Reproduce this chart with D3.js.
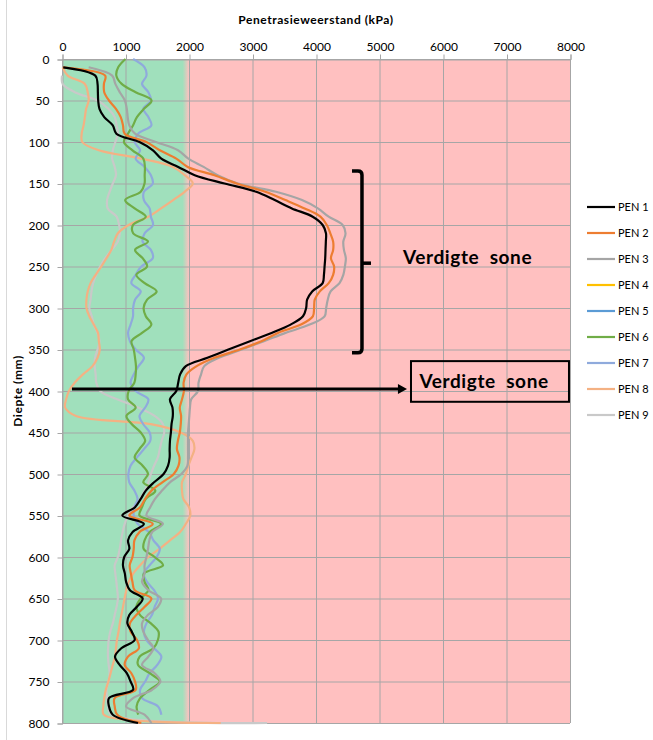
<!DOCTYPE html>
<html>
<head>
<meta charset="utf-8">
<script src="https://cdn.jsdelivr.net/npm/d3@7"></script>
<style>
  body { margin: 0; background: #fff; }
  text { font-family: Lato, "Open Sans", sans-serif; fill: #000; }
</style>
</head>
<body>
<svg id="chart" width="653" height="740"></svg>
<script>
// depth (mm) of every reading, 10 mm steps
const depths = [0, 10, 20, 30, 40, 50, 60, 70, 80, 90,
  100, 110, 120, 130, 140, 150, 160, 170, 180, 190,
  200, 210, 220, 230, 240, 250, 260, 270, 280, 290,
  300, 310, 320, 330, 340, 350, 360, 370, 380, 390,
  400, 410, 420, 430, 440, 450, 460, 470, 480, 490,
  500, 510, 520, 530, 540, 550, 560, 570, 580, 590,
  600, 610, 620, 630, 640, 650, 660, 670, 680, 690,
  700, 710, 720, 730, 740, 750, 760, 770, 780, 790,
  800];

// penetration resistance (kPa) per probe
const pen1 = [null, 20, 525, 560, 565, 570, 590, 665, 800, 856,
  1220, 1433, 1564, 1830, 2090, 2560, 3058, 3350, 3620, 3948,
  4105, 4157, 4155, 4150, 4145, 4135, 4125, 4105, 3940, 3860,
  3845, 3795, 3600, 3300, 2960, 2620, 2290, 1950, 1860, 1830,
  1800, 1700, 1740, 1745, 1725, 1715, 1700, 1695, 1695, 1670,
  1600, 1450, 1320, 1240, 1150, 950, 1290, 1110, 1040, 1060,
  980, 960, 990, 1010, 1070, 1270, 1180, 1060, 1030, 1100,
  1144, 934, 835, 908, 1020, 1080, 1120, 740, 740, 800,
  1197];
const pen2 = [null, 15, 680, 660, 665, 740, 850, 925, 961, 987,
  1328, 1540, 1800, 1980, 2400, 2750, 3200, 3520, 3820, 4070,
  4170, 4225, 4270, 4270, 4235, 4285, 4270, 4200, 4060, 3980,
  3970, 3950, 3760, 3400, 3140, 2800, 2400, 2120, 1960, 1915,
  1920, 1890, 1855, 1875, 1870, 1855, 1825, 1810, 1850, 1835,
  1760, 1580, 1410, 1310, 1230, 1060, 1430, 1220, 1140, 1130,
  1110, 1066, 1085, 1110, 1144, 1407, 1302, 1170, 1070, 1080,
  1180, 1210, 1039, 987, 1092, 1150, 1160, 829, 830, 870,
  1249];
const pen3 = [null, 420, 790, 840, 910, 990, 1020, 1035, 1060, 1150,
  1480, 1827, 1990, 2230, 2450, 2770, 3370, 3780, 4030, 4200,
  4419, 4465, 4430, 4440, 4470, 4455, 4430, 4370, 4230, 4185,
  4160, 4135, 3900, 3520, 3180, 2830, 2470, 2240, 2190, 2150,
  2142, 2035, 2015, 2005, 1995, 1985, 1984, 1984, 1984, 1975,
  1880, 1700, 1575, 1465, 1390, 1330, 1590, 1420, 1375, 1355,
  1330, 1300, 1300, 1260, 1360, 1560, 1510, 1350, 1260, 1280,
  1354, 1440, 1360, 1260, 1459, 1550, 1420, 1120, 1010, 1300,
  1407];
const pen4 = [];
const pen5 = [];
const pen6 = [1000, 885, 856, 940, 1160, 1410, 1290, 1180, 1118, 1039,
  975, 1110, 1280, 1305, 1302, 1300, 1240, 995, 1144, 1320,
  1118, 1120, 1354, 1150, 1270, 1340, 1170, 1302, 1490, 1340,
  1285, 1320, 1407, 1260, 1095, 1130, 1150, 1165, 1160, 1140,
  1050, 1040, 1160, 1015, 1100, 1240, 1310, 1220, 1144, 1270,
  1354, 1280, 1470, 1320, 1260, 1220, 1560, 1380, 1300, 1285,
  1459, 1591, 1290, 1300, 1360, 1240, 1171, 1230, 1400, 1520,
  1510, 1440, 1223, 1197, 1381, 1540, 1380, 1230, 1175, 1200,
  null];
const pen7 = [1120, 1300, 1330, 1260, 1360, 1400, 1280, 1360, 1407, 1200,
  1144, 1230, 1160, 1300, 1400, 1430, 1290, 1290, 1380, 1400,
  1433, 1302, 1270, 1400, 1430, 1249, 1160, 1092, 1240, 1150,
  1120, 1118, 1080, 1040, 1070, 1160, 1290, 1205, 1130, 1080,
  1160, 1360, 1310, 1220, 1280, 1380, 1390, 1290, 1180, 1080,
  1045, 1060, 1140, 1190, 1140, 1130, 1190, 1370, 1440, 1540,
  1490, 1380, 1285, 1340, 1450, 1512, 1459, 1415, 1330, 1290,
  1330, 1450, 1564, 1500, 1380, 1310, 1230, 1260, 1512, 1564,
  null];
const pen8 = [null, 10, 90, 360, 405, 420, 380, 360, 340, 310,
  320, 580, 1250, 1750, 1932, 2060, 1930, 1750, 1560, 1360,
  1050, 880, 820, 777, 700, 619, 530, 450, 405, 385,
  385, 430, 500, 567, 580, 595, 560, 480, 330, 200,
  110, 65, 50, 220, 1400, 1870, 2060, 2085, 2040, 1990,
  1950, 1890, 1890, 1910, 2000, 2020, 1950, 1860, 1700, 1540,
  1360, 1230, 1120, 1050, 1013, 985, 961, 935, 910, 890,
  865, 850, 835, 800, 765, 730, 690, 665, 650, 660,
  2500];
const pen9 = [null, null, 0, 10, 200, 560, 730, 830, 860, 880,
  840, 800, 790, 830, 850, 800, 750, 710, 720, 860,
  900, 910, 880, 780, 680, 600, 540, 490, 465, 450,
  430, 470, 500, 560, 590, 560, 520, 515, 530, 540,
  600, 870, 1200, 1460, 1590, 1610, 1570, 1540, 1510, 1450,
  1400, 1360, 1302, 1230, 1120, 1040, 987, 955, 930, 910,
  880, 830, 840, 856, 870, 880, 860, 830, 800, 760,
  735, 725, 724, 735, 750, 730, 700, 710, 724, 777,
  3230];

const penNames = ["PEN 1", "PEN 2", "PEN 3", "PEN 4", "PEN 5", "PEN 6", "PEN 7", "PEN 8", "PEN 9"];
const penValues = [pen1, pen2, pen3, pen4, pen5, pen6, pen7, pen8, pen9];
const penColors = ["#000000", "#ED7D31", "#A5A5A5", "#FFC000", "#5B9BD5", "#70AD47", "#8FAADC", "#F4B183", "#C9C9C9"];

const xTicks = [0, 1000, 2000, 3000, 4000, 5000, 6000, 7000, 8000];
const yTicks = [0, 50, 100, 150, 200, 250, 300, 350, 400, 450, 500, 550, 600, 650, 700, 750, 800];

const zoneLimit = 2000;   // green / red boundary (kPa)
const noteText = "Verdigte\u00a0 sone";

const svg = d3.select("#chart");

const plotLeft = 62, plotTop = 59, plotRight = 570, plotBottom = 723;

const x = d3.scaleLinear().domain([0, 8000]).range([plotLeft, plotRight]);
const y = d3.scaleLinear().domain([0, 800]).range([plotTop, plotBottom]);

// chart area border
svg.append("rect")
  .attr("x", 6.5).attr("y", -2)
  .attr("width", 700).attr("height", 750)
  .attr("fill", "none")
  .attr("stroke", "#D9D9D9");

// zone backgrounds
const defs = svg.append("defs");
const grad = defs.append("linearGradient")
  .attr("id", "zone")
  .attr("gradientUnits", "userSpaceOnUse")
  .attr("x1", x(0)).attr("x2", x(8000)).attr("y1", 0).attr("y2", 0);
grad.append("stop").attr("offset", (x(1900) - plotLeft) / (plotRight - plotLeft)).attr("stop-color", "#A0E0BC");
grad.append("stop").attr("offset", (x(zoneLimit) - plotLeft) / (plotRight - plotLeft)).attr("stop-color", "#FFC0C0");
grad.append("stop").attr("offset", 1).attr("stop-color", "#FFC0C0");

svg.append("rect")
  .attr("x", x(0)).attr("y", y(0))
  .attr("width", x(8000) - x(0))
  .attr("height", y(800) - y(0))
  .attr("fill", "url(#zone)");

// gridlines
svg.append("g")
  .selectAll("line")
  .data(xTicks)
  .enter()
  .append("line")
  .attr("x1", d => x(d) + 0.5).attr("x2", d => x(d) + 0.5)
  .attr("y1", y(0)).attr("y2", y(800))
  .attr("stroke", "#A6A6A6");

svg.append("g")
  .selectAll("line")
  .data(yTicks)
  .enter()
  .append("line")
  .attr("x1", x(0)).attr("x2", x(8000))
  .attr("y1", d => y(d) + 0.5).attr("y2", d => y(d) + 0.5)
  .attr("stroke", "#A6A6A6");

// axes
const xAxis = svg.append("g")
  .attr("transform", `translate(0.5,${y(0) + 0.5})`)
  .call(d3.axisTop(x).tickValues(xTicks).tickSize(5).tickPadding(4).tickFormat(d3.format("d")));

const yAxis = svg.append("g")
  .attr("transform", `translate(${x(0) + 0.5},0.5)`)
  .call(d3.axisLeft(y).tickValues(yTicks).tickSize(5).tickPadding(8).tickFormat(d3.format("d")));

[xAxis, yAxis].forEach(a => {
  a.selectAll("path, line").attr("stroke", "#A6A6A6");
  a.selectAll("text").attr("font-size", 12).attr("fill", "#000")
    .attr("font-family", "Lato, sans-serif");
});

// data lines
const line = d3.line()
  .defined(d => d.v != null)
  .x(d => x(d.v))
  .y(d => y(d.depth))
  .curve(d3.curveCatmullRom.alpha(0.5));

const lineOrder = [8, 7, 6, 5, 4, 3, 2, 1, 0];
lineOrder.forEach(i => {
  const pts = penValues[i].map((v, j) => ({ depth: depths[j], v: v }));
  if (pts.length === 0) return;
  svg.append("path")
    .datum(pts)
    .attr("d", line)
    .attr("fill", "none")
    .attr("stroke", penColors[i])
    .attr("stroke-width", 2.2)
    .attr("stroke-linejoin", "round");
});

// titles
svg.append("text")
  .attr("x", (plotLeft + plotRight) / 2)
  .attr("y", 24)
  .attr("text-anchor", "middle")
  .attr("font-size", 12)
  .attr("letter-spacing", 0.55)
  .attr("font-weight", "bold")
  .text("Penetrasieweerstand (kPa)");

svg.append("text")
  .attr("transform", "rotate(-90)")
  .attr("x", -(plotTop + plotBottom) / 2)
  .attr("y", 22)
  .attr("text-anchor", "middle")
  .attr("font-size", 12)
  .attr("letter-spacing", 0.55)
  .attr("font-weight", "bold")
  .text("Diepte (mm)");

// bracket annotation
const bx = x(4724), bTop = y(135), bBot = y(354), bMid = y(246), hook = x(4567);
svg.append("path")
  .attr("d", `M${hook},${bTop} L${bx - 4},${bTop} Q${bx},${bTop} ${bx},${bTop + 4} L${bx},${bBot - 4} Q${bx},${bBot} ${bx - 4},${bBot} L${hook},${bBot}`)
  .attr("fill", "none")
  .attr("stroke", "#000")
  .attr("stroke-width", 3.5);
svg.append("line")
  .attr("x1", bx).attr("x2", x(4866))
  .attr("y1", bMid).attr("y2", bMid)
  .attr("stroke", "#000")
  .attr("stroke-width", 3.5);

svg.append("text")
  .attr("x", x(5370))
  .attr("y", y(247))
  .attr("font-size", 19)
  .attr("letter-spacing", 0.6)
  .attr("font-weight", "bold")
  .text(noteText);

// arrow annotation
const ay = y(397.5);
svg.append("line")
  .attr("x1", x(157)).attr("x2", x(5300))
  .attr("y1", ay).attr("y2", ay)
  .attr("stroke", "#000")
  .attr("stroke-width", 3);
svg.append("path")
  .attr("d", `M${x(5433)},${ay} L${x(5290)},${ay - 5} L${x(5290)},${ay + 5} Z`)
  .attr("fill", "#000");

svg.append("rect")
  .attr("x", x(5496)).attr("y", y(364))
  .attr("width", x(7984) - x(5496))
  .attr("height", y(413) - y(364))
  .attr("fill", "none")
  .attr("stroke", "#000")
  .attr("stroke-width", 2);

svg.append("text")
  .attr("x", x(5630))
  .attr("y", y(396))
  .attr("font-size", 19)
  .attr("letter-spacing", 0.6)
  .attr("font-weight", "bold")
  .text(noteText);

// legend
const legend = svg.append("g")
  .selectAll("g")
  .data(penNames)
  .enter()
  .append("g")
  .attr("transform", (d, i) => `translate(587,${207 + i * 26})`);

legend.append("line")
  .attr("x1", 0).attr("x2", 28)
  .attr("stroke", (d, i) => penColors[i])
  .attr("stroke-width", 2.2);

legend.append("text")
  .attr("x", 31)
  .attr("y", 4)
  .attr("font-size", 11)
  .text(d => d);
</script>
</body>
</html>
